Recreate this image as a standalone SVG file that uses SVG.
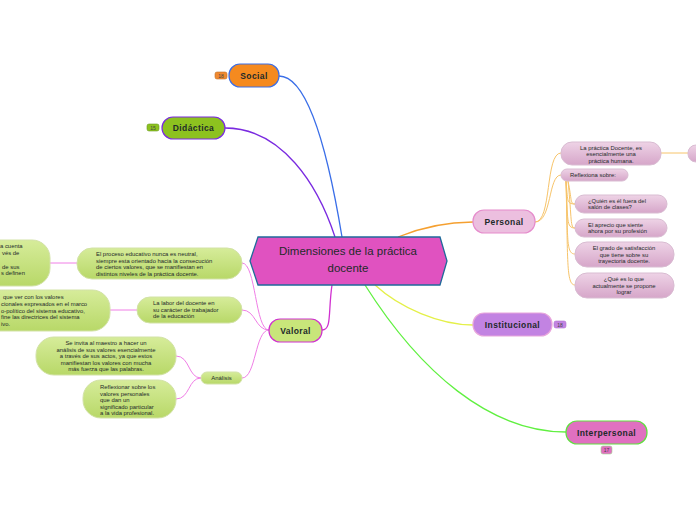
<svg xmlns="http://www.w3.org/2000/svg" width="696" height="520" viewBox="0 0 696 520">
<defs>
<linearGradient id="gPink" x1="0" y1="0" x2="0" y2="1"><stop offset="0" stop-color="#eed3e6"/><stop offset="1" stop-color="#d6a6c9"/></linearGradient>
<linearGradient id="gGreen" x1="0" y1="0" x2="0" y2="1"><stop offset="0" stop-color="#d6ec9a"/><stop offset="1" stop-color="#b8d868"/></linearGradient>
<style>
.t{font-family:"Liberation Sans",Arial,sans-serif;fill:#1e2a2a}
.s{font-size:5.9px}
.m{font-size:8.5px;font-weight:bold;letter-spacing:0.4px}
.b{font-size:5px;fill:#444}
.c{text-anchor:middle}
.pk{fill:url(#gPink);stroke:#d9bcd2;stroke-width:1}
.gr{fill:url(#gGreen);stroke:#d2e2a6;stroke-width:1}
.con{fill:none}
</style>
</defs>
<rect width="696" height="520" fill="#ffffff"/>
<g id="connectors">
<path class="con" d="M342,237 C326,140 305,76 279,76" stroke="#3a6ee8" stroke-width="1.3"/>
<path class="con" d="M335,237 C318,185 282,128 225,128" stroke="#7a2ae0" stroke-width="1.3"/>
<path class="con" d="M398,237 C425,226 450,222 473,222" stroke="#f5a030" stroke-width="1.3"/>
<path class="con" d="M375,285 C400,308 440,325 473,325" stroke="#e4f048" stroke-width="1.3"/>
<path class="con" d="M365,285 C420,372 490,432 566,432" stroke="#60f040" stroke-width="1.3"/>
<path class="con" d="M332,285 C328,312 332,330 322,330" stroke="#d030d0" stroke-width="1.3"/>
<g stroke="#f7c46a" stroke-width="1" fill="none">
<path d="M535,222 C552,222 545,153 561,153"/>
<path d="M535,222 C552,222 548,175 561,175"/>
<path d="M661,153 L690,153"/>
<path d="M566,181 C568,200 566,204 575,204"/>
<path d="M566,181 C568,220 566,228 575,228"/>
<path d="M566,181 C568,240 566,254 575,254"/>
<path d="M566,181 C568,260 566,285 575,285"/>
<path d="M568,181 C572,200 570,204 575,204"/>
<path d="M568,181 C572,220 570,228 575,228"/>
</g>
<g stroke="#f07ee6" stroke-width="1" fill="none">
<path d="M269,330 C255,330 256,263 242,263"/>
<path d="M269,330 C255,330 256,310 242,310"/>
<path d="M269,330 C255,330 256,378 242,378"/>
<path d="M77,263 L50,263"/>
<path d="M137,310 L108,310"/>
<path d="M201,378 C188,378 190,356 176,356"/>
<path d="M201,378 C188,378 190,399 176,399"/>
</g>
</g>
<g id="center">
<polygon points="250,261 258,237 440,237 447,261 440,285 258,285" fill="#e052c0" stroke="#1f6a9a" stroke-width="1.3"/>
<text class="t c" x="348" y="255" font-size="11.5">Dimensiones de la práctica</text>
<text class="t c" x="348" y="272" font-size="11.5">docente</text>
</g>
<g id="social">
<rect x="229" y="64" width="50" height="23" rx="11" fill="#f58a1f" stroke="#3a6ee8" stroke-width="1.2"/>
<text class="t m c" x="254" y="78.5">Social</text>
<rect x="215" y="72" width="12" height="7" rx="2" fill="#f08a30" stroke="#c07028" stroke-width="0.6"/>
<text class="t b c" x="221" y="77.7">18</text>
</g>
<g id="didactica">
<rect x="162" y="117" width="63" height="22" rx="11" fill="#8dc21f" stroke="#7a2ae0" stroke-width="1.2"/>
<text class="t m c" x="193.5" y="131">Didáctica</text>
<rect x="147" y="124" width="12" height="7" rx="2" fill="#8dc21f" stroke="#6a9a20" stroke-width="0.6"/>
<text class="t b c" x="153" y="129.7">15</text>
</g>
<g id="personal">
<rect x="473" y="210" width="62" height="23" rx="11" fill="#ecbfdf" stroke="#e58ccc" stroke-width="1.2"/>
<text class="t m c" x="504" y="224.5">Personal</text>
</g>
<g id="institucional">
<rect x="473" y="313" width="79" height="23" rx="11" fill="#c283e2" stroke="#e8a6dc" stroke-width="1.2"/>
<text class="t m c" x="512.5" y="327.5">Institucional</text>
<rect x="554" y="321" width="12" height="7" rx="2" fill="#c283e2" stroke="#b070d0" stroke-width="0.6"/>
<text class="t b c" x="560" y="326.7">18</text>
</g>
<g id="interpersonal">
<rect x="566" y="421" width="81" height="23" rx="11" fill="#e070c0" stroke="#60e040" stroke-width="1.2"/>
<text class="t m c" x="606.5" y="435.5">Interpersonal</text>
<rect x="601" y="446" width="11" height="8" rx="2" fill="#e070c0" stroke="#a0d890" stroke-width="0.6"/>
<text class="t b c" x="606.5" y="452">17</text>
</g>
<g id="valoral">
<rect x="269" y="319" width="53" height="23" rx="11" fill="#c8e67a" stroke="#d030d0" stroke-width="1.2"/>
<text class="t m c" x="295.5" y="333.5">Valoral</text>
</g>
<g id="practica-humana">
<rect x="561" y="142" width="100" height="23" rx="11" class="pk"/>
<text class="t s c" x="611" y="149.5">La práctica Docente, es</text>
<text class="t s c" x="611" y="156">esencialmente una</text>
<text class="t s c" x="611" y="162.5">práctica humana.</text>
</g>
<g id="practica-hijo">
<rect x="688" y="145" width="30" height="17" rx="8" class="pk"/>
</g>
<g id="reflexiona">
<rect x="561" y="169" width="67" height="12" rx="6" class="pk"/>
<text class="t s" x="570" y="177">Reflexiona sobre:</text>
</g>
<g id="quien">
<rect x="575" y="195" width="92" height="18" rx="9" class="pk"/>
<text class="t s" x="588" y="202.5">¿Quién es él fuera del</text>
<text class="t s" x="588" y="209">salón de clases?</text>
</g>
<g id="aprecio">
<rect x="575" y="219" width="92" height="18" rx="9" class="pk"/>
<text class="t s" x="588" y="226.5">El aprecio que siente</text>
<text class="t s" x="588" y="233">ahora por su profesión</text>
</g>
<g id="satisfaccion">
<rect x="575" y="242" width="99" height="25" rx="12" class="pk"/>
<text class="t s c" x="624" y="250">El grado de satisfacción</text>
<text class="t s c" x="624" y="256.5">que tiene sobre su</text>
<text class="t s c" x="624" y="263">trayectoria docente.</text>
</g>
<g id="lograr">
<rect x="575" y="273" width="99" height="25" rx="12" class="pk"/>
<text class="t s c" x="624" y="281">¿Qué es lo que</text>
<text class="t s c" x="624" y="287.5">actualmente se propone</text>
<text class="t s c" x="624" y="294">lograr</text>
</g>
<g id="proceso">
<rect x="77" y="248" width="165" height="31" rx="15" class="gr"/>
<text class="t s" x="96" y="256">El proceso educativo nunca es neutral,</text>
<text class="t s" x="96" y="262.5">siempre esta orientado hacia la consecución</text>
<text class="t s" x="96" y="269">de ciertos valores, que se manifiestan en</text>
<text class="t s" x="96" y="275.5">distintos niveles de la práctica docente.</text>
</g>
<g id="proceso-hijo">
<rect x="-40" y="240" width="90" height="46" rx="18" class="gr"/>
<text class="t s" x="0" y="248">a cuenta</text>
<text class="t s" x="2" y="255">vés de</text>
<text class="t s" x="2" y="268.5">de sus</text>
<text class="t s" x="1" y="275">s definen</text>
</g>
<g id="labor">
<rect x="137" y="297" width="105" height="26" rx="13" class="gr"/>
<text class="t s" x="153" y="305">La labor del docente en</text>
<text class="t s" x="153" y="311.5">su carácter de trabajador</text>
<text class="t s" x="153" y="318">de la educación</text>
</g>
<g id="labor-hijo">
<rect x="-40" y="290" width="150" height="41" rx="18" class="gr"/>
<text class="t s" x="3" y="299">que ver con los valores</text>
<text class="t s" x="1" y="306">cionales expresados en el marco</text>
<text class="t s" x="1" y="312.5">o-político del sistema educativo,</text>
<text class="t s" x="1" y="319">fine las directrices del sistema</text>
<text class="t s" x="1" y="325.5">ivo.</text>
</g>
<g id="analisis">
<rect x="201" y="372" width="41" height="12" rx="6" class="gr"/>
<text class="t s c" x="221.5" y="380">Análisis</text>
</g>
<g id="invita">
<rect x="36" y="337" width="140" height="38" rx="18" class="gr"/>
<text class="t s c" x="106" y="345">Se invita al maestro a hacer un</text>
<text class="t s c" x="106" y="351.5">análisis de sus valores esencialmente</text>
<text class="t s c" x="106" y="358">a través de sus actos, ya que estos</text>
<text class="t s c" x="106" y="364.5">manifiestan los valores con mucha</text>
<text class="t s c" x="106" y="371">más fuerza que las palabras.</text>
</g>
<g id="reflexionar">
<rect x="83" y="380" width="93" height="38" rx="18" class="gr"/>
<text class="t s" x="100" y="389">Reflexionar sobre los</text>
<text class="t s" x="100" y="395.5">valores personales</text>
<text class="t s" x="100" y="402">que dan un</text>
<text class="t s" x="100" y="408.5">significado particular</text>
<text class="t s" x="100" y="415">a la vida profesional.</text>
</g>
</svg>
